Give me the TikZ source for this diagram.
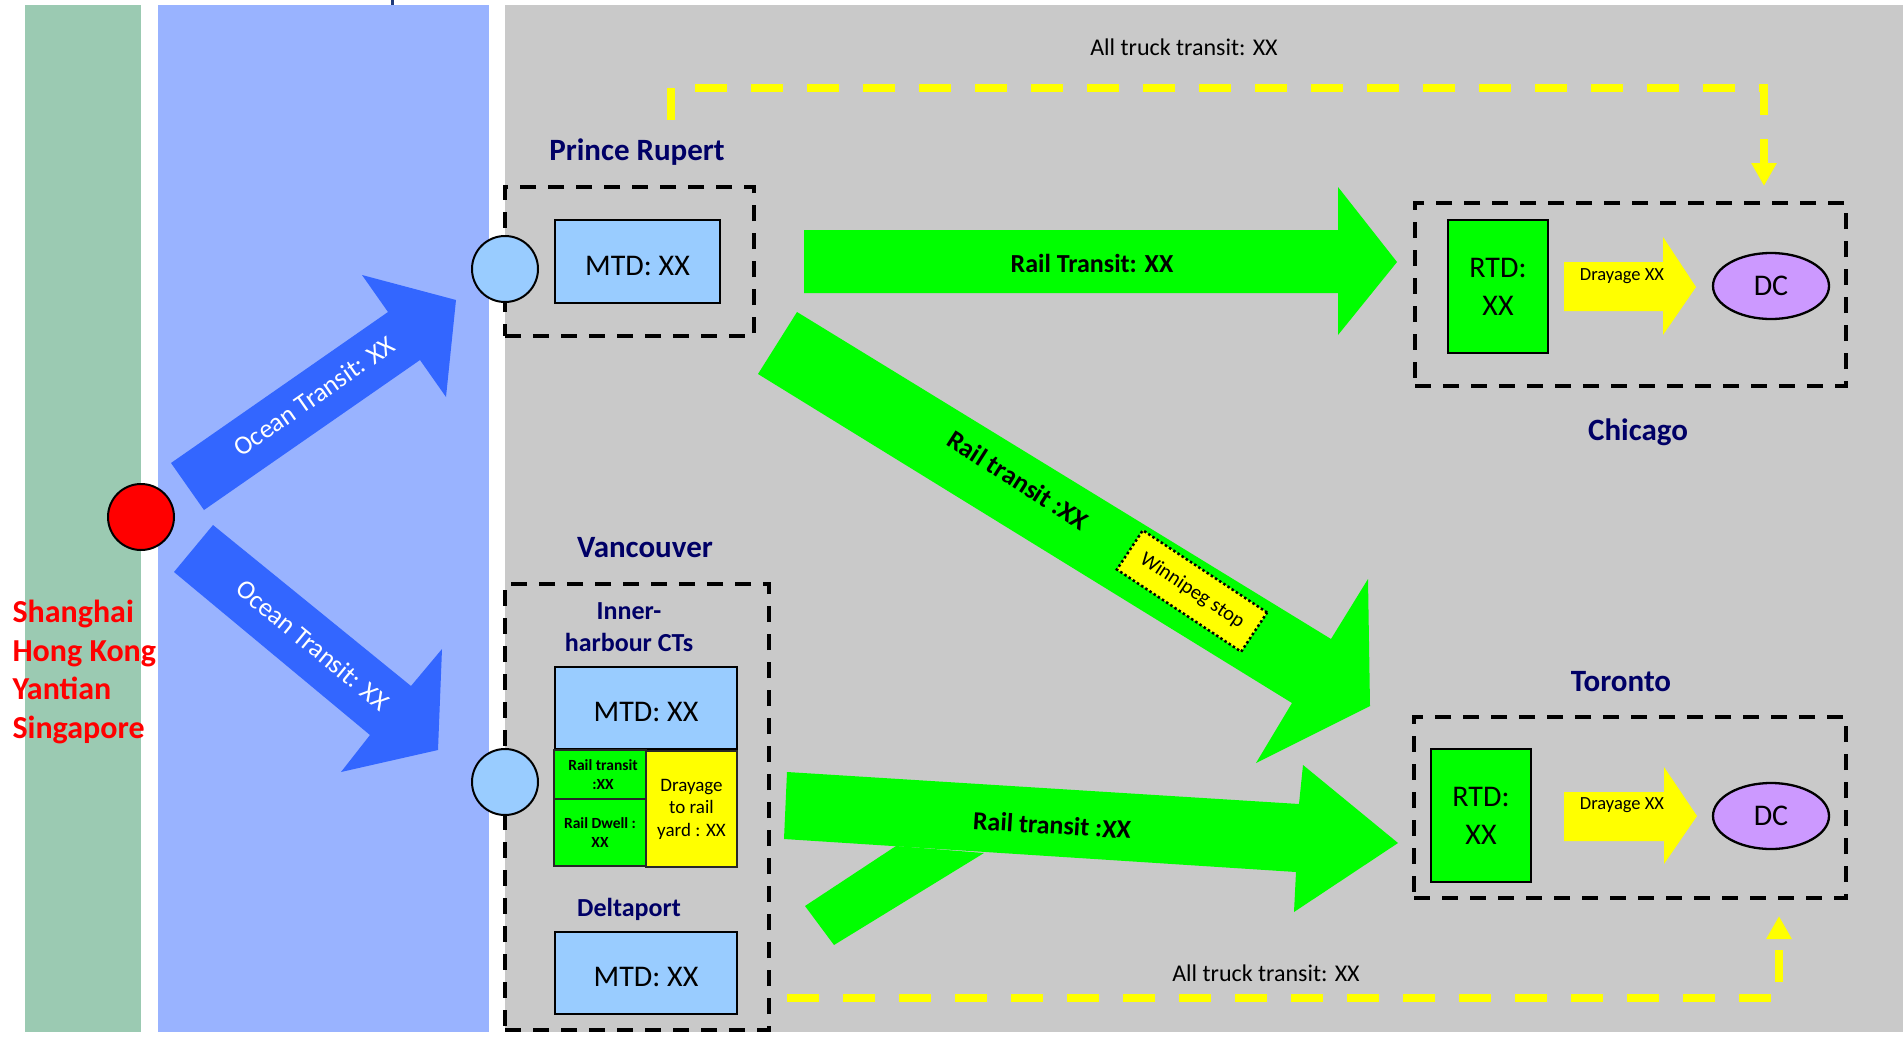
\documentclass[tikz,border=0pt]{standalone}
\usepackage{fontspec}
\setmainfont{Carlito}
\usetikzlibrary{arrows.meta,shapes.geometric}
\definecolor{bandgreen}{RGB}{155,202,178}
\definecolor{bandblue}{RGB}{153,179,255}
\definecolor{bggray}{RGB}{201,201,201}
\definecolor{oceanblue}{RGB}{51,102,255}
\definecolor{railgreen}{RGB}{0,255,0}
\definecolor{lightblue}{RGB}{153,204,255}
\definecolor{dcpurple}{RGB}{204,153,255}
\definecolor{navy}{RGB}{0,0,102}
\definecolor{truckyellow}{RGB}{255,255,0}
\definecolor{tickblue}{RGB}{31,58,122}
\definecolor{cellline}{RGB}{40,40,40}
\begin{document}
\begin{tikzpicture}[x=1pt,y=-1pt,
  title/.style={text=navy,font=\fontsize{31}{37}\selectfont\bfseries},
  subtitle/.style={text=navy,font=\fontsize{26}{32}\selectfont\bfseries,align=center},
  zone/.style={draw=black,line width=4pt,dash pattern=on 16pt off 12pt,inner sep=0pt},
  port/.style={circle,draw=black,line width=2pt,fill=lightblue,minimum size=66pt,inner sep=0pt},
  origin/.style={circle,draw=black,line width=2pt,fill=red,minimum size=66pt,inner sep=0pt},
  mtdbox/.style={draw=black,line width=2.5pt,fill=lightblue,font=\fontsize{30}{36}\selectfont,inner sep=0pt,text height=27pt,text depth=0pt},
  rtdbox/.style={draw=black,line width=2.3pt,fill=railgreen,font=\fontsize{30}{38}\selectfont,inner sep=0pt,align=center,minimum width=100pt,minimum height=133pt},
  dcnode/.style={ellipse,draw=black,line width=2.3pt,fill=dcpurple,font=\fontsize{30}{36}\selectfont,inner sep=0pt,minimum width=116pt,minimum height=66pt},
  cell/.style={draw=cellline,line width=1.5pt,inner sep=0pt,align=center},
  arrowlabel/.style={font=\fontsize{26}{30}\selectfont\bfseries},
  oceanlabel/.style={text=white,font=\fontsize{26.5}{30}\selectfont},
  draylabel/.style={font=\fontsize{18.5}{22}\selectfont},
  trucklabel/.style={font=\fontsize{24}{28}\selectfont},
  truckline/.style={draw=truckyellow,line width=8pt,dash pattern=on 32pt off 24pt,-{Triangle[width=24pt,length=23pt]}}
]
\useasboundingbox (0,0) rectangle (1903,1036);
\fill[white] (0,0) rectangle (1903,1036);
% background bands
\fill[bandgreen] (25,5) rectangle (141,1032);
\fill[bandblue] (158,5) rectangle (489,1032);
\fill[bggray] (505,5) rectangle (1903,1032);
\fill[tickblue] (390.5,0) rectangle (393.5,5);

% zones
\node[zone,minimum width=249pt,minimum height=149pt] (przone) at (629.5,261.5) {};
\node[zone,minimum width=264pt,minimum height=446pt] (vanzone) at (637,807) {};
\node[zone,minimum width=431pt,minimum height=183pt] (chizone) at (1630.5,294.5) {};
\node[zone,minimum width=432pt,minimum height=181pt] (torzone) at (1630,807.5) {};

% titles
\node[title] (prtitle) at (637,152) {Prince Rupert};
\node[title] (vantitle) at (645,548) {Vancouver};
\node[title] (chititle) at (1638,432) {Chicago};
\node[title] (tortitle) at (1621,682) {Toronto};
\node[subtitle] (innertitle) at (629,627) {Inner-\\harbour CTs};
\node[subtitle] (deltatitle) at (629,909) {Deltaport};

% origin text
\node[anchor=west,text=red,align=left,font=\fontsize{32}{38.5}\selectfont\bfseries] (origins) at (9,672)
  {Shanghai\\Hong Kong\\Yantian\\Singapore};

% ocean arrows
\fill[oceanblue] (171,463) -- (388,312) -- (362,275) -- (456,300) -- (446,397) -- (420,360) -- (204,510) -- cycle;
\fill[oceanblue] (213,525) -- (411,686) -- (442,649) -- (438,750) -- (341,772) -- (370,735) -- (174,572) -- cycle;
\node[oceanlabel,rotate=34.8] (ocean1) at (314,396) {Ocean Transit: XX};
\node[oceanlabel,rotate=-39.5] (ocean2) at (313,645) {Ocean Transit: XX};

% origin and ports
\node[origin] (originpt) at (141,517) {};
\node[port] (prport) at (505,269) {};
\node[port] (vanport) at (505,782) {};

% rail arrows
\fill[railgreen] (804,230) -- (1338,230) -- (1338,187) -- (1397,262) -- (1338,335) -- (1338,293) -- (804,293) -- cycle;
\fill[railgreen] (797,312) -- (1331,639) -- (1368,579) -- (1370,706) -- (1256,763) -- (1292,703) -- (758,374) -- cycle;
\fill[railgreen] (787,772) -- (1299,804) -- (1303,765) -- (1398,843) -- (1294,912) -- (1296,872) -- (784,839) -- cycle;
\fill[railgreen] (896,846) -- (805,906) -- (834,945) -- (984,853) -- cycle;
\node[arrowlabel] (railtop) at (1092,263) {Rail Transit: XX};
\node[arrowlabel,font=\fontsize{26.5}{30}\selectfont\bfseries,rotate=-32.5] (raildiag) at (1018,480) {Rail transit :XX};
\node[arrowlabel,rotate=-3.5] (raillow) at (1052,825) {Rail transit :XX};
\node[draw=black,line width=2.5pt,dash pattern=on 2.5pt off 2.5pt,fill=truckyellow,minimum width=149pt,minimum height=47pt,inner sep=0pt,rotate=-33.5,font=\fontsize{20.5}{24}\selectfont] (winnipeg) at (1192,591) {Winnipeg stop};

% terminal boxes
\node[mtdbox,minimum width=165pt,minimum height=83pt] (prmtd) at (637.5,261.5) {MTD: XX};
\node[mtdbox,minimum width=182pt,minimum height=82pt] (innermtd) at (646,708) {MTD: XX};
\node[cell,fill=railgreen,minimum width=92pt,minimum height=49pt,font=\fontsize{15.5}{19}\selectfont\bfseries] (railcell) at (600,774.5) {\hspace*{6pt}Rail transit\\\hspace*{6pt}:XX};
\node[cell,fill=railgreen,minimum width=92pt,minimum height=67pt,font=\fontsize{15.5}{19}\selectfont\bfseries] (dwellcell) at (600,832.5) {Rail Dwell :\\XX};
\node[cell,fill=truckyellow,minimum width=91pt,minimum height=116pt,font=\fontsize{19}{22.5}\selectfont] (draycell) at (691.5,809) {Drayage\\to rail\\yard : XX};
\node[mtdbox,minimum width=182pt,minimum height=82pt] (deltamtd) at (646,973) {MTD: XX};

% destinations
\node[rtdbox] (chirtd) at (1498,286.5) {RTD:\\XX};
\node[rtdbox] (torrtd) at (1481,815.5) {RTD:\\XX};
\fill[truckyellow] (1564,262) -- (1663,262) -- (1663,237) -- (1696,287) -- (1663,335) -- (1663,311) -- (1564,311) -- cycle;
\fill[truckyellow] (1564,792) -- (1664,792) -- (1664,767) -- (1697,816) -- (1664,864) -- (1664,841) -- (1564,841) -- cycle;
\node[draylabel] (chidray) at (1622,276) {Drayage XX};
\node[draylabel] (tordray) at (1622,805) {Drayage XX};
\node[dcnode] (chidc) at (1771,286) {DC};
\node[dcnode] (tordc) at (1771,816) {DC};

% all-truck routes
\coordinate (truckTopStart) at (671,120);
\coordinate (truckTopEnd) at (1764,186);
\coordinate (truckBotStart) at (787,998);
\coordinate (truckBotEnd) at (1779,916);
\draw[truckline] (truckTopStart) -- ++(0,-32) -| (truckTopEnd);
\draw[truckline] (truckBotStart) -| (truckBotEnd);
\node[trucklabel] (trucktop) at (1184,47) {All truck transit: XX};
\node[trucklabel] (truckbot) at (1266,973) {All truck transit: XX};
\end{tikzpicture}
\end{document}
